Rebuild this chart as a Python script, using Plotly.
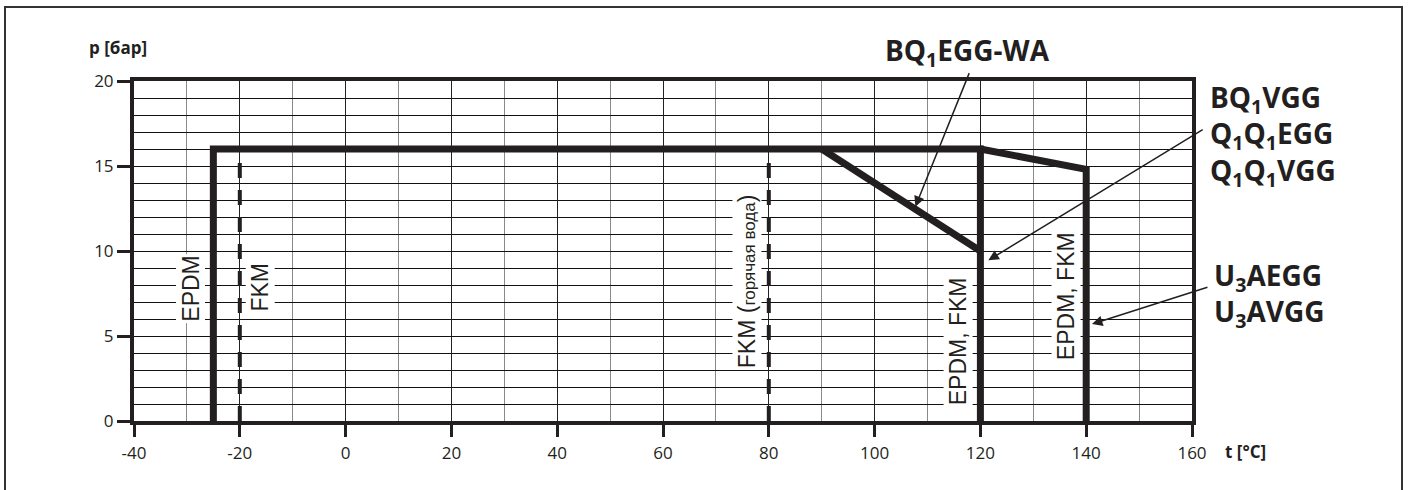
import plotly.graph_objects as go

# Operating limits: temperature t [°C] vs pressure p [bar]
main_t = [-25, -25, 120, 120]
main_p = [0, 16, 16, 0]

wa_t = [90, 120]          # BQ1EGG-WA derating
wa_p = [16, 10]

u3_t = [120, 140, 140]    # U3AEGG / U3AVGG extension
u3_p = [16, 14.8, 0]

fkm_limits_t = [-20, 80]  # FKM seal limits (dashed)
fkm_limit_p = 16

x_ticks = [-40, -20, 0, 20, 40, 60, 80, 100, 120, 140, 160]
y_ticks = [0, 5, 10, 15, 20]

T_RANGE = [-40, 160]
P_RANGE = [0, 20]

INK = "#231f20"
PLOT_L, PLOT_R, PLOT_T, PLOT_B = 134, 1192, 81, 421


def paper_x(px):
    return (px - PLOT_L) / (PLOT_R - PLOT_L)


def paper_y(py):
    return (PLOT_B - py) / (PLOT_B - PLOT_T)


def t_to_paper(t):
    return (t - T_RANGE[0]) / (T_RANGE[1] - T_RANGE[0])


def p_to_paper(p):
    return (p - P_RANGE[0]) / (P_RANGE[1] - P_RANGE[0])


fig = go.Figure()

# dashed FKM limits over the grid lines
for t in fkm_limits_t:
    fig.add_trace(go.Scatter(
        x=[t, t], y=[0, fkm_limit_p], mode="lines",
        line=dict(color=INK, width=4, dash="15px,12px"),
        hoverinfo="skip", showlegend=False))

for xs, ys in [(main_t, main_p), (wa_t, wa_p), (u3_t, u3_p)]:
    fig.add_trace(go.Scatter(
        x=xs, y=ys, mode="lines",
        line=dict(color=INK, width=7),
        hoverinfo="skip", showlegend=False))

bold_font = dict(family="Open Sans", size=28, color=INK, weight="bold")
seal_font = dict(family="Liberation Sans Narrow, Liberation Sans", size=23, color=INK)

annotations = []

# arrows from the model labels to their curves
for tip_t, tip_p, tail_t, tail_p in [
    (107.7, 12.6, 118.0, 20.55),
    (121.5, 9.45, 162.3, 17.2),
    (141.1, 5.7, 163.2, 7.9),
]:
    annotations.append(dict(
        x=tip_t, y=tip_p, ax=tail_t, ay=tail_p, xref="x", yref="y",
        axref="x", ayref="y", text="", showarrow=True,
        arrowhead=2, arrowsize=1.4, arrowwidth=1.5, arrowcolor=INK))

# model labels (outside the axis ranges, so placed in paper space)
for t, p, label, anchor in [
    (117.5, 21.7, "BQ<sub>1</sub>EGG-WA", "center"),
    (163.1, 16.8,
     "BQ<sub>1</sub>VGG<br>Q<sub>1</sub>Q<sub>1</sub>EGG<br>Q<sub>1</sub>Q<sub>1</sub>VGG",
     "left"),
    (163.8, 7.4, "U<sub>3</sub>AEGG<br>U<sub>3</sub>AVGG", "left"),
]:
    annotations.append(dict(
        x=t_to_paper(t), y=p_to_paper(p), xref="paper", yref="paper",
        text=label, font=bold_font, showarrow=False,
        xanchor=anchor, yanchor="middle", align="left"))

# seal material labels along the limit lines
for t, p, label in [
    (-29.3, 7.76, "EPDM"),
    (-16.2, 7.9, "FKM"),
    (75.8, 8.2, "FKM (<span style='font-size:17px'>горячая вода</span>)"),
    (115.8, 4.7, "EPDM, FKM"),
    (136.2, 7.35, "EPDM, FKM"),
]:
    annotations.append(dict(
        x=t, y=p, xref="x", yref="y", text=label, textangle=-90,
        font=seal_font, bgcolor="white", borderpad=1, showarrow=False,
        xanchor="center", yanchor="middle"))

# axis titles
title_font = dict(family="Open Sans", size=17, color=INK, weight="bold")
annotations += [
    dict(x=paper_x(118), y=paper_y(48), xref="paper", yref="paper",
         text="p [бар]", showarrow=False, font=title_font,
         xanchor="center", yanchor="middle"),
    dict(x=paper_x(1245), y=paper_y(452), xref="paper", yref="paper",
         text="t [°C]", showarrow=False, font=title_font,
         xanchor="center", yanchor="middle"),
]

shapes = [
    # outer frame
    dict(type="rect", xref="paper", yref="paper",
         x0=paper_x(5), x1=paper_x(1402), y0=paper_y(560), y1=paper_y(7),
         line=dict(color="#333333", width=2), fillcolor="rgba(0,0,0,0)",
         layer="below"),
]

fig.update_layout(
    width=1411, height=490,
    margin=dict(l=PLOT_L, r=1411 - PLOT_R, t=PLOT_T, b=490 - PLOT_B),
    paper_bgcolor="white", plot_bgcolor="white",
    annotations=annotations, shapes=shapes,
    xaxis=dict(
        range=T_RANGE, tickvals=x_ticks, ticktext=[str(v) for v in x_ticks],
        showgrid=True, gridcolor="#222222", gridwidth=1.3,
        minor=dict(dtick=10, tick0=0, showgrid=True, gridcolor="#8a8a8a",
                   gridwidth=1),
        showline=True, linecolor=INK, linewidth=4, mirror=True,
        ticks="outside", ticklen=12, tickwidth=3, tickcolor=INK,
        ticklabelstandoff=2,
        tickfont=dict(family="Open Sans", size=17, color=INK),
        zeroline=False, fixedrange=True),
    yaxis=dict(
        range=P_RANGE, tickvals=y_ticks, ticktext=[str(v) for v in y_ticks],
        showgrid=True, gridcolor="#111111", gridwidth=1,
        minor=dict(dtick=1, tick0=0, showgrid=True, gridcolor="#111111",
                   gridwidth=1),
        showline=True, linecolor=INK, linewidth=4, mirror=True,
        ticks="outside", ticklen=13, tickwidth=3, tickcolor=INK,
        tickfont=dict(family="Open Sans", size=17, color=INK),
        zeroline=False, fixedrange=True),
)

fig.write_html("out.html")
